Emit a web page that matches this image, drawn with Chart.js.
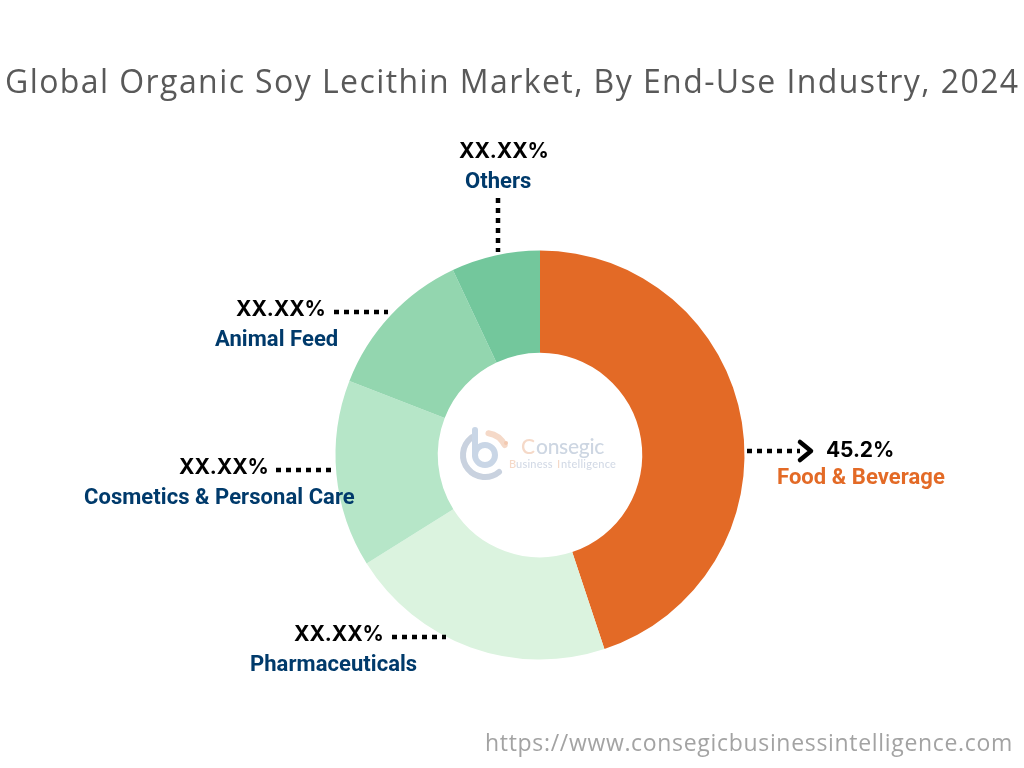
<!DOCTYPE html>
<html><head><meta charset="utf-8">
<style>html,body{margin:0;padding:0;background:#fff}canvas{display:block}</style>
<script src="https://cdn.jsdelivr.net/npm/chart.js@4"></script></head>
<body><canvas id="c" width="1024" height="768"></canvas>
<script>
const categories=["Food & Beverage","Pharmaceuticals","Cosmetics & Personal Care","Animal Feed","Others"];
const shares=[44.9,21.2,14.8,12.1,7.0];
const sliceColors=["#E36A26","#DBF3DF","#B6E6C8","#93D6AF","#73C79C"];
const valueLabels=["45.2%","XX.XX%","XX.XX%","XX.XX%","XX.XX%"];
const titleText="Global Organic Soy Lecithin Market, By End-Use Industry, 2024";
const sourceText="https://www.consegicbusinessintelligence.com";
const labelPlacement=[
 {vx:826,vy:451,lx:777,ly:478,color:"#E36A26",line:[747,451,800,451]},
 {vx:294,vy:635,lx:250,ly:665,color:"#003A6B",line:[392,637,446,637]},
 {vx:179,vy:468,lx:84,ly:498,color:"#003A6B",line:[276,470,332,470]},
 {vx:236,vy:310,lx:215,ly:340,color:"#003A6B",line:[334,312,388,312]},
 {vx:459,vy:152,lx:465,ly:182,color:"#003A6B",line:[498,198,498,252]}
];
const overlay={id:"overlay",afterDraw(chart){
 const g=chart.ctx;g.save();
 g.textBaseline="middle";g.textAlign="left";
 g.fillStyle="#595959";g.font='400 32px "Open Sans"';g.letterSpacing="1.42px";
 g.fillText(titleText,5,84);
 g.fillStyle="#a3a3a3";g.font='400 23px "Open Sans"';g.letterSpacing="0.68px";
 g.fillText(sourceText,485,744);
 g.letterSpacing="0px";
 categories.forEach((name,i)=>{
  const p=labelPlacement[i];
  g.fillStyle="#000";g.font='700 21px "Inter"';g.letterSpacing="-0.1px";
  g.fillText(valueLabels[i],p.vx,p.vy);
  g.fillStyle=p.color;g.font='700 22px "Roboto"';g.letterSpacing="0.05px";
  g.fillText(name,p.lx,p.ly);
  g.strokeStyle="#000";g.lineWidth=4.5;g.setLineDash([5,5]);g.beginPath();
  g.moveTo(p.line[0],p.line[1]);g.lineTo(p.line[2],p.line[3]);g.stroke();g.setLineDash([]);
 });
 g.strokeStyle="#000";g.lineWidth=4.5;g.lineCap="round";g.lineJoin="round";
 g.beginPath();g.moveTo(800,442);g.lineTo(811,451);g.lineTo(800,460);g.stroke();
 g.lineCap="round";
 g.lineWidth=6;g.strokeStyle="#c9d2df";g.beginPath();g.arc(485,455,22,Math.PI*0.28,Math.PI*1.3);g.stroke();
 g.strokeStyle="#c9d6e6";g.beginPath();g.arc(485,455,10,0,Math.PI*2);g.stroke();
 g.beginPath();g.moveTo(475,430);g.lineTo(475,455);g.stroke();
 g.strokeStyle="#f5d9c8";g.beginPath();g.arc(485,455,22,Math.PI*1.55,Math.PI*1.85);g.stroke();
 g.fillStyle="#f3c9b0";g.beginPath();g.arc(506,443,2,0,Math.PI*2);g.fill();
 g.fillStyle="#f5d9c8";g.font='500 21px "Lato"';g.letterSpacing="-0.3px";g.fillText("C",521,447);
 g.fillStyle="#cdd6e2";g.fillText("onsegic",536,447);
 g.font='500 11px "Lato"';g.letterSpacing="0.25px";g.fillStyle="#f5d9c8";g.fillText("B",509,464);
 g.fillStyle="#d3dae6";g.fillText("usiness ",516,464);
 g.fillStyle="#f5d9c8";g.fillText("I",557,464);
 g.fillStyle="#d3dae6";g.fillText("ntelligence",561,464);
 g.restore();
}};
new Chart(document.getElementById("c"),{
 type:"doughnut",
 data:{labels:categories,datasets:[{data:shares,backgroundColor:sliceColors,borderWidth:0}]},
 options:{responsive:false,animation:false,cutout:"50%",
  layout:{padding:{left:335.5,right:279.5,top:250.5,bottom:108.5}},
  plugins:{legend:{display:false},tooltip:{enabled:false},title:{display:false}}},
 plugins:[overlay]
});
</script></body></html>
